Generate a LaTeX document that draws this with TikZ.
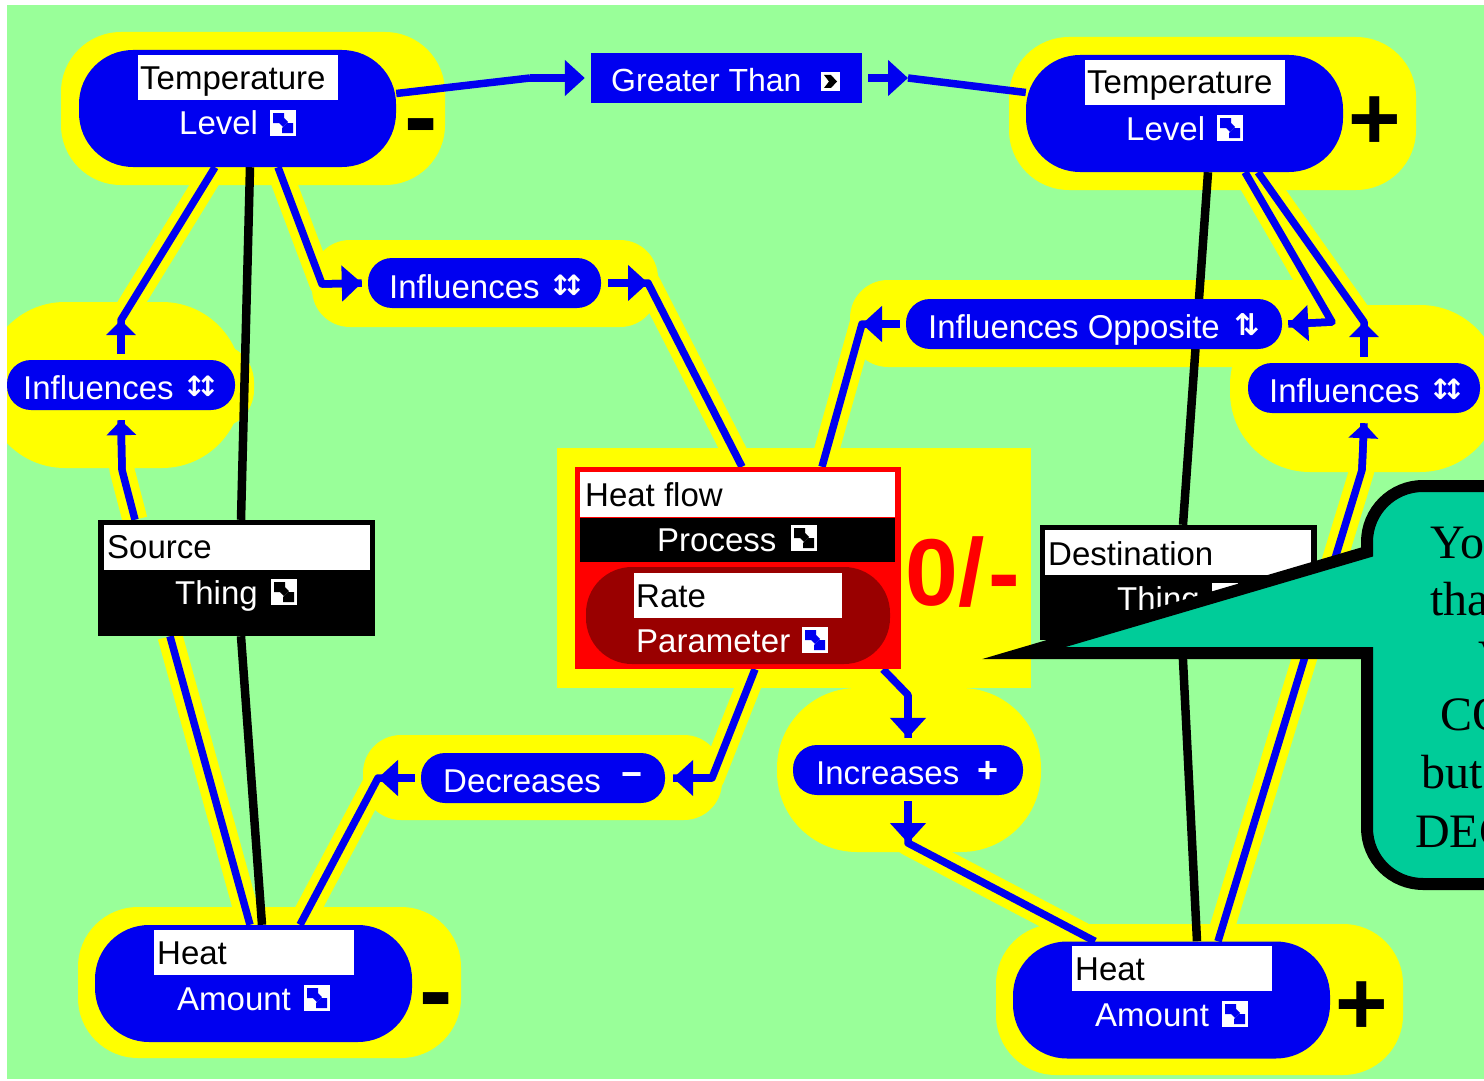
\documentclass[tikz,border=0pt]{standalone}
\usepackage{fontspec}
\setmainfont{Liberation Sans}
\newfontfamily\calloutfont{Liberation Serif}
\newfontfamily\symfont{DejaVu Sans}
\usetikzlibrary{arrows.meta,calc}
\pgfdeclarelayer{halo}
\pgfdeclarelayer{links}
\pgfsetlayers{halo,links,main}
\definecolor{bggreen}{HTML}{99FF99}
\definecolor{hblue}{HTML}{0000F0}
\definecolor{hyellow}{HTML}{FFFF00}
\definecolor{hred}{HTML}{FF0000}
\definecolor{dred}{HTML}{990000}
\definecolor{teal2}{HTML}{00CC99}
\tikzset{
  bigpill/.style={fill=hblue,rounded corners=54pt,minimum width=317pt,minimum height=117pt,inner sep=0pt},
  smallpill/.style={fill=hblue,rounded corners=24pt,minimum height=50pt,inner sep=0pt},
  blackbox/.style={fill=black,minimum width=277pt,minimum height=116pt,inner sep=0pt},
  txt/.style={inner sep=0pt,anchor=base west,font=\fontsize{33}{36}\selectfont},
  wtxt/.style={txt,text=white},
  sign/.style={inner sep=0pt,anchor=base,font=\fontsize{90}{90}\selectfont\bfseries},
  dash sign/.style={inner sep=0pt,anchor=base,font=\fontsize{100}{100}\selectfont\bfseries},
  smallsign/.style={inner sep=0pt,anchor=center,text=white,font=\fontsize{36}{36}\selectfont\bfseries},
  updown/.style={inner sep=0pt,anchor=center,text=white,font=\symfont\bfseries\fontsize{28}{28}\selectfont},
  halofill/.style={fill=hyellow},
  halolinestyle/.style={draw=hyellow,line width=25pt,line join=round},
  bluelinestyle/.style={draw=hblue,line width=7.5pt,line join=round},
  blacklinestyle/.style={draw=black,line width=8.5pt},
  hhead/.style={-{Triangle[length=20pt,width=35pt]}},
  vhead/.style={-{Triangle[length=15pt,width=29pt]}},
  calloutshape/.style={fill=teal2,draw=black,line width=12pt,miter limit=10},
  calltxt/.style={inner sep=0pt,anchor=base west,font=\calloutfont\fontsize{48}{48}\selectfont},
  pics/expander/.style={code={
    \fill[white] (0,0) rectangle (26,26);
    \fill[#1] (3,3) -- (14,3) -- (14,8) -- (18,12) -- (13,17) -- (9,13) -- (3,13) -- cycle;
    \fill[#1] (23,23) -- (12,23) -- (12,18) -- (17,13) -- (23,13) -- cycle;
  }},
  pics/gtmark/.style={code={
    \fill[white] (0,0) rectangle (19,19);
    \fill[black] (3,3) -- (10,3) -- (16,9.5) -- (10,16) -- (3,16) -- (8,9.5) -- cycle;
  }}
}
\newcommand\halolink[1]{%
  \begin{pgfonlayer}{halo}\draw[halolinestyle] #1;\end{pgfonlayer}%
  \begin{pgfonlayer}{links}\draw[bluelinestyle] #1;\end{pgfonlayer}}
\newcommand\barelink[1]{\begin{pgfonlayer}{links}\draw[bluelinestyle] #1;\end{pgfonlayer}}
\newcommand\headlink[2]{\begin{pgfonlayer}{links}\draw[bluelinestyle,#1] #2;\end{pgfonlayer}}
\newcommand\blacklink[1]{\begin{pgfonlayer}{links}\draw[blacklinestyle] #1;\end{pgfonlayer}}
\begin{document}
\begin{tikzpicture}[x=1pt,y=-1pt]
\useasboundingbox (0,0) rectangle (1484,1081);

% background and yellow halos
\begin{pgfonlayer}{halo}
  \fill[bggreen] (7,5) rectangle (1490,1079);
  \fill[halofill,rounded corners=60pt] (61,32) rectangle (445,185);
  \fill[halofill,rounded corners=60pt] (1009,37) rectangle (1416,190);
  \fill[halofill,rounded corners=60pt] (78,907) rectangle (461,1058);
  \fill[halofill,rounded corners=60pt] (996,924) rectangle (1403,1075);
  \fill[halofill,rounded corners=38pt] (312,240) rectangle (658,327);
  \fill[halofill,rounded corners=38pt] (850,280) rectangle (1340,367);
  \fill[halofill,rounded corners=80pt] (-15,302) rectangle (242,468);
  \fill[halofill,rounded corners=38pt] (-10,344) rectangle (254,428);
  \fill[halofill,rounded corners=80pt] (1230,305) rectangle (1500,472);
  \fill[halofill,rounded corners=38pt] (363,735) rectangle (722,820);
  \fill[halofill,rounded corners=80pt] (777,688) rectangle (1041,852);
  \fill[halofill] (557,448) rectangle (1031,688);
\end{pgfonlayer}

% concept nodes
\node[bigpill] (tempL) at (237.5,108.5) {};
\fill[white] (138,55) rectangle (338,100);
\node[txt] (tempLa) at (140,89) {Temperature};
\node[wtxt] (tempLb) at (179,135) {Level};
\pic at (270,110) {expander=hblue};
\node[dash sign] (tempLs) at (421,150) {-};

\node[bigpill] (tempR) at (1184.5,113.5) {};
\fill[white] (1085,60) rectangle (1285,105);
\node[txt] (tempRa) at (1087,94) {Temperature};
\node[wtxt] (tempRb) at (1126,140) {Level};
\pic at (1217,115) {expander=hblue};
\node[sign] (tempRs) at (1375,149) {+};

\node[bigpill] (heatL) at (253.5,983.5) {};
\fill[white] (154,930) rectangle (354,975);
\node[txt] (heatLa) at (157,964) {Heat};
\node[wtxt] (heatLb) at (177,1010) {Amount};
\pic at (304,985) {expander=hblue};
\node[dash sign] (heatLs) at (436.5,1024) {-};

\node[bigpill] (heatR) at (1171.5,1000) {};
\fill[white] (1072,946) rectangle (1272,991);
\node[txt] (heatRa) at (1075,980) {Heat};
\node[wtxt] (heatRb) at (1095,1026) {Amount};
\pic at (1222,1001) {expander=hblue};
\node[sign] (heatRs) at (1362,1034) {+};

% relation nodes
\node[fill=hblue,minimum width=271pt,minimum height=50pt,inner sep=0pt] (gt) at (726.5,78) {};
\node[wtxt,font=\fontsize{32}{36}\selectfont] (gtt) at (611,92) {Greater Than};
\pic at (821,72) {gtmark};

\node[smallpill,minimum width=233pt] (infT) at (484.5,283) {};
\node[wtxt] (infTt) at (389,298) {Influences};
\node[updown] (infTi) at (567,285) {↕\kern-10pt↕};

\node[smallpill,minimum width=228pt] (infL) at (121,385) {};
\node[wtxt] (infLt) at (23,399) {Influences};
\node[updown] (infLi) at (201,386) {↕\kern-10pt↕};

\node[smallpill,minimum width=232pt] (infR) at (1364,388) {};
\node[wtxt] (infRt) at (1269,402) {Influences};
\node[updown] (infRi) at (1447,389) {↕\kern-10pt↕};

\node[smallpill,minimum width=376pt] (infO) at (1094,324) {};
\node[wtxt] (infOt) at (928,338) {Influences Opposite};
\node[updown,font=\symfont\bfseries\fontsize{30}{30}\selectfont] (infOi) at (1247,325) {⇅};

\node[smallpill,minimum width=244pt] (dec) at (543,778) {};
\node[wtxt] (dect) at (443,792) {Decreases};
\node[smallsign] (decs) at (632,780) {−};

\node[smallpill,minimum width=230pt] (inc) at (908,770) {};
\node[wtxt] (inct) at (816,784) {Increases};
\node[smallsign] (incs) at (988,772) {+};

% thing boxes
\node[blackbox] (source) at (236.5,578) {};
\fill[white] (104,525) rectangle (370,570);
\node[txt] (sourcea) at (107,558) {Source};
\node[wtxt] (sourceb) at (175,604) {Thing};
\pic at (271,579) {expander=black};

\node[blackbox,minimum height=115pt] (dest) at (1178,582.5) {};
\fill[white] (1045,530) rectangle (1311,575);
\node[txt] (desta) at (1048,565) {Destination};
\node[wtxt] (destb) at (1117,610) {Thing};
\pic at (1212,583) {expander=white};

% process box
\node[fill=hred,minimum width=326pt,minimum height=202pt,inner sep=0pt] (hf) at (738,568) {};
\fill[white] (580,472) rectangle (895,517);
\fill[black] (580,518) rectangle (895,562);
\node[txt] (hfa) at (585,506) {Heat flow};
\node[wtxt] (hfb) at (657,551) {Process};
\pic at (791,525) {expander=black};
\node[fill=dred,rounded corners=46pt,minimum width=304pt,minimum height=97pt,inner sep=0pt] (rate) at (738,615.5) {};
\fill[white] (634,573) rectangle (842,618);
\node[txt] (ratea) at (636,607) {Rate};
\node[wtxt] (rateb) at (636,652) {Parameter};
\pic at (802,627) {expander=hblue};
\node[inner sep=0pt,anchor=base west,text=hred,font=\fontsize{95}{95}\selectfont\bfseries] (hfs) at (905,605) {0/\kern4pt-};

% way points
\coordinate (w1) at (530,78);
\coordinate (w2) at (908,78);
\coordinate (w3) at (322,284);
\coordinate (w4) at (648,283);
\coordinate (w5) at (121,320);
\coordinate (w6) at (122,470);
\coordinate (w7) at (862,324);
\coordinate (w8) at (1332,322);
\coordinate (w9) at (1364,322);
\coordinate (w10) at (1362,470);
\coordinate (w11) at (712,778);
\coordinate (w12) at (378,778);
\coordinate (w13) at (908,695);
\coordinate (w14) at (908,843);

% connectors: level line across the top (no halo)
\barelink{([yshift=15pt]tempL.east) -- (w1)}
\headlink{hhead}{(w1) -- ([xshift=-6pt]gt.west)}
\headlink{hhead}{([xshift=6pt]gt.east) -- (w2)}
\barelink{(w2) -- ([yshift=21pt]tempR.west)}

% connectors with halo
\halolink{([xshift=40.5pt]tempL.south) -- (w3) -- ([xshift=-6pt]infT.west)}
\headlink{hhead}{(w3) -- ([xshift=-6pt]infT.west)}
\halolink{([xshift=7pt]infT.east) -- (w4) -- ([xshift=4pt]hf.north)}
\headlink{hhead}{([xshift=7pt]infT.east) -- (w4)}

\halolink{([xshift=-22.5pt]tempL.south) -- (w5) -- ([yshift=6pt]infL.north)}
\headlink{vhead}{([yshift=6pt]infL.north) -- (w5)}
\halolink{([xshift=-101.5pt]source.north) -- (w6) -- ([yshift=-10pt]infL.south)}
\headlink{vhead}{(w6) -- ([yshift=-10pt]infL.south)}

\halolink{([xshift=-66.5pt]source.south) -- ([xshift=-3.5pt]heatL.north)}

\halolink{([xshift=84pt]hf.north) -- (w7) -- ([xshift=-6pt]infO.west)}
\headlink{hhead}{([xshift=-6pt]infO.west) -- (w7)}
\halolink{([xshift=60.5pt]tempR.south) -- (w8) -- ([xshift=6pt]infO.east)}
\headlink{hhead}{(w8) -- ([xshift=6pt]infO.east)}

\halolink{([xshift=73.5pt]tempR.south) -- (w9) -- ([yshift=6pt]infR.north)}
\headlink{vhead}{([yshift=6pt]infR.north) -- (w9)}
\halolink{([xshift=46.5pt]heatR.north) -- (w10) -- ([yshift=-10pt]infR.south)}
\headlink{vhead}{(w10) -- ([yshift=-10pt]infR.south)}

\halolink{([xshift=17pt]hf.south) -- (w11) -- ([xshift=8pt]dec.east)}
\headlink{hhead}{(w11) -- ([xshift=8pt]dec.east)}
\halolink{([xshift=-6pt]dec.west) -- (w12) -- ([xshift=46.5pt]heatL.north)}
\headlink{hhead}{([xshift=-6pt]dec.west) -- (w12)}

\halolink{([xshift=145pt]hf.south) -- (w13) -- ([yshift=7pt]inc.north)}
\headlink{hhead}{(w13) -- ([yshift=7pt]inc.north)}
\halolink{([yshift=-6pt]inc.south) -- (w14) -- ([xshift=-76.5pt]heatR.north)}
\headlink{hhead}{([yshift=-6pt]inc.south) -- (w14)}

% black lines
\blacklink{([xshift=12.5pt]tempL.south) -- ([xshift=4.5pt]source.north)}
\blacklink{([xshift=4.5pt]source.south) -- ([xshift=8.5pt]heatL.north)}
\blacklink{([xshift=23.5pt]tempR.south) -- ([xshift=5pt]dest.north)}
\blacklink{([xshift=4pt]dest.south) -- ([xshift=25.5pt]heatR.north)}

% callout
\draw[calloutshape] (1024,653) -- (1367,552) [rounded corners=56pt] -- (1367,486) -- (1600,486) -- (1600,884) -- (1367,884) [sharp corners] -- (1367,653) -- cycle;
\node[calltxt] (c1) at (1430,558) {Yo};
\node[calltxt] (c2) at (1430,615) {tha};
\node[calltxt] (c3) at (1478,673) {V};
\node[calltxt] (c4) at (1440,730) {CO};
\node[calltxt] (c5) at (1421,788) {but};
\node[calltxt] (c6) at (1415,847) {DEC};

% white page margins
\fill[white] (0,0) rectangle (7,1081);
\fill[white] (0,0) rectangle (1484,5);
\fill[white] (0,1079) rectangle (1484,1081);
\end{tikzpicture}
\end{document}
